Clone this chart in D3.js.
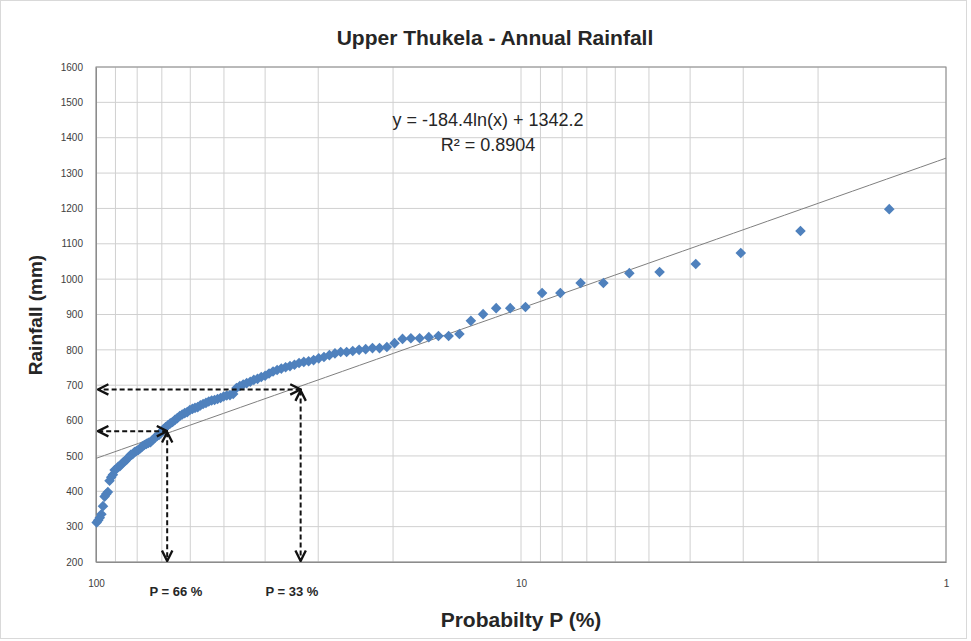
<!DOCTYPE html>
<html><head><meta charset="utf-8">
<script src="https://cdn.jsdelivr.net/npm/d3@7"></script>
<style>body{margin:0;background:#fff}svg{display:block}text{font-family:"Liberation Sans",Arial,sans-serif}</style>
</head><body><svg id="c" width="971" height="641"></svg>
<script>
// Exceedance probability P (%) for each ranked year
const probability = [1.36,2.20,3.04,3.88,4.72,5.56,6.40,7.24,8.08,8.92,9.76,10.60,11.44,12.28,13.12,13.96,14.80,15.64,16.48,17.32,18.16,19.00,19.84,20.68,21.52,22.36,23.20,24.04,24.88,25.72,26.56,27.40,28.24,29.08,29.92,30.76,31.60,32.44,33.28,34.12,34.96,35.80,36.64,37.48,38.32,39.16,40.00,40.84,41.68,42.52,43.36,44.20,45.04,45.88,46.72,47.56,48.40,49.24,50.08,50.92,51.76,52.60,53.44,54.28,55.12,55.96,56.80,57.64,58.48,59.32,60.16,61.00,61.84,62.68,63.52,64.36,65.20,66.04,66.88,67.72,68.56,69.40,70.24,71.08,71.92,72.76,73.60,74.44,75.28,76.12,76.96,77.80,78.64,79.48,80.32,81.16,82.00,82.84,83.68,84.52,85.36,86.20,87.04,87.88,88.72,89.56,90.40,91.24,92.08,92.92,93.76,94.60,95.44,96.28,97.12,97.96,98.80,99.64];
// Annual rainfall (mm), ranked
const rainfall = [1198,1136,1074,1043,1020,1017,989,989,961,961,921,918,918,901,882,845,839,839,836,833,833,831,819,808,805,805,802,800,797,794,794,790,785,780,776,771,768,766,763,758,754,751,747,743,739,733,727,723,718,715,710,706,702,698,692,675,672,671,668,664,661,658,657,654,650,647,643,638,636,633,630,624,621,617,613,607,602,596,592,587,582,575,568,559,556,551,545,539,537,534,531,527,522,517,514,511,505,503,497,491,486,483,477,471,469,463,460,447,440,430,398,392,385,358,335,325,318,312];
// Logarithmic trendline y = a ln(x) + b
const trendCoef = [-184.4, 1342.2];
const xTicks = [100, 10, 1];
const xGrid = [100,90,80,70,60,50,40,30,20,10,9,8,7,6,5,4,3,2,1];
const yTicks = [200,300,400,500,600,700,800,900,1000,1100,1200,1300,1400,1500,1600];
// Dashed reading arrows: probability and rainfall
const arrowP = [68, 33];
const arrowV = [570, 688];
const arrowLabels = ["P = 66 %", "P = 33 %"];
const arrowLabelX = [176, 292];

const svg = d3.select("#c");
const L = 96, R = 946, T = 67, B = 562;
const x = d3.scaleLog().domain([100, 1]).range([L, R]);
const y = d3.scaleLinear().domain([200, 1600]).range([B, T]);

svg.append("rect").attr("x",0.5).attr("y",0.5).attr("width",966).attr("height",638)
  .attr("fill","#fff").attr("stroke","#d9d9d9");

// gridlines
svg.append("g").selectAll("line").data(yTicks).join("line")
  .attr("x1",L).attr("x2",R).attr("y1",d=>y(d)).attr("y2",d=>y(d))
  .attr("stroke","#d0d0d0").attr("stroke-width",1);
svg.append("g").selectAll("line").data(xGrid).join("line")
  .attr("x1",d=>x(d)).attr("x2",d=>x(d)).attr("y1",T).attr("y2",B)
  .attr("stroke","#d0d0d0").attr("stroke-width",1);
// plot border
svg.append("rect").attr("x",L).attr("y",T).attr("width",R-L).attr("height",B-T)
  .attr("fill","none").attr("stroke","#8c8c8c").attr("stroke-width",1);

// axes labels
const yAxis = d3.axisLeft(y).tickValues(yTicks).tickFormat(d3.format("d")).tickSize(0).tickPadding(13);
const gy = svg.append("g").attr("transform",`translate(${L},0)`).call(yAxis);
gy.select(".domain").attr("stroke","#8c8c8c");
gy.selectAll("text").attr("font-size",10).attr("fill","#404040");

const xAxis = d3.axisBottom(x).tickValues(xTicks).tickFormat(d3.format("d")).tickSize(0).tickPadding(18);
const gx = svg.append("g").attr("transform",`translate(0,${B})`).call(xAxis);
gx.select(".domain").attr("stroke","#8c8c8c");
gx.selectAll("text").attr("font-size",10).attr("fill","#404040");

// trendline
const tP = d3.range(0, 101).map(i => Math.pow(10, 2 - i*0.02));
svg.append("path").datum(tP)
  .attr("d", d3.line().x(p=>x(p)).y(p=>y(trendCoef[0]*Math.log(p)+trendCoef[1])))
  .attr("fill","none").attr("stroke","#7f7f7f").attr("stroke-width",1);

// points
const pts = probability.map((p,i)=>({p, v: rainfall[i]}));
svg.append("g").selectAll("path").data(pts).join("path")
  .attr("d", d3.symbol(d3.symbolSquare, 56))
  .attr("transform", d=>`translate(${x(d.p)},${y(d.v)}) rotate(45)`)
  .attr("fill","#4f81bd");

// arrows
const defs = svg.append("defs");
defs.append("marker").attr("id","ah").attr("viewBox","0 0 10 10").attr("refX",9).attr("refY",5)
  .attr("orient","auto-start-reverse")
  .attr("markerUnits","userSpaceOnUse").attr("markerWidth",13).attr("markerHeight",13)
  .append("path").attr("d","M1,1 L9,5 L1,9").attr("fill","none").attr("stroke","#111").attr("stroke-width",1.8);
const ag = svg.append("g");
arrowP.forEach((p,i)=>{
  ag.append("line").attr("x1",x(p)).attr("y1",y(arrowV[i])).attr("x2",L+2).attr("y2",y(arrowV[i]))
    .attr("stroke","#111").attr("stroke-width",2).attr("stroke-dasharray","5,3")
    .attr("marker-start","url(#ah)").attr("marker-end","url(#ah)");
  ag.append("line").attr("x1",x(p)).attr("y1",y(arrowV[i])+1).attr("x2",x(p)).attr("y2",B-1)
    .attr("stroke","#111").attr("stroke-width",2).attr("stroke-dasharray","5,3")
    .attr("marker-start","url(#ah)").attr("marker-end","url(#ah)");
  svg.append("text").attr("x",arrowLabelX[i]).attr("y",596).attr("text-anchor","middle")
    .attr("font-size",13).attr("font-weight","bold").attr("fill","#262626").text(arrowLabels[i]);
});

// equation
svg.append("text").attr("x",488).attr("y",126).attr("text-anchor","middle").attr("font-size",18).attr("fill","#262626")
  .text("y = -184.4ln(x) + 1342.2");
svg.append("text").attr("x",488).attr("y",151).attr("text-anchor","middle").attr("font-size",18).attr("fill","#262626")
  .text("R² = 0.8904");

// titles
svg.append("text").attr("x",495).attr("y",45).attr("text-anchor","middle").attr("font-size",21).attr("font-weight","bold")
  .attr("fill","#262626").text("Upper Thukela - Annual Rainfall");
svg.append("text").attr("x",521).attr("y",627).attr("text-anchor","middle").attr("font-size",21).attr("font-weight","bold")
  .attr("fill","#262626").text("Probabilty P (%)");
svg.append("text").attr("transform","translate(42,315) rotate(-90)").attr("text-anchor","middle").attr("font-size",19)
  .attr("font-weight","bold").attr("fill","#262626").text("Rainfall (mm)");
</script></body></html>
